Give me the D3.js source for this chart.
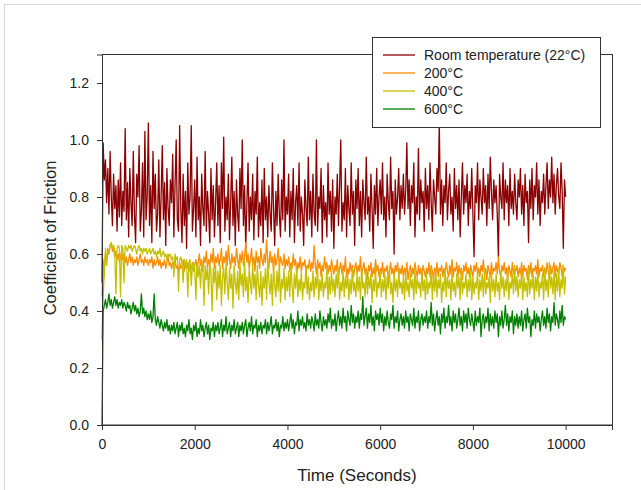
<!DOCTYPE html>
<html><head><meta charset="utf-8">
<script src="https://cdn.jsdelivr.net/npm/d3@7/dist/d3.min.js"></script>
<style>body{margin:0;background:#fff;}svg{display:block;font-family:"Liberation Sans",Arial,sans-serif;}</style>
</head><body><svg id="c" width="641" height="490"></svg>
<script>
const seriesNames = ["Room temperature (22°C)", "200°C", "400°C", "600°C"];
const seriesColors = ["#8b0000", "#ff8c00", "#c4c000", "#008000"];
const xTicks = [0, 2000, 4000, 6000, 8000, 10000];
const yTicks = [0.0, 0.2, 0.4, 0.6, 0.8, 1.0, 1.2];
const sampleStep = 25; // seconds between samples

const roomTemp = [
0.50,0.99,0.86,0.93,0.78,0.90,0.74,0.96,0.80,0.70,0.88,0.76,0.84,0.68,0.86,0.73,0.92,0.70,0.82,0.75,
1.04,0.72,0.85,0.66,0.90,0.78,0.70,0.96,0.74,0.64,0.88,0.80,0.98,0.68,0.75,0.92,0.66,1.03,0.72,0.80,
1.06,0.70,0.84,0.64,0.96,0.76,0.88,0.68,0.74,0.93,0.66,0.80,0.98,0.72,0.85,0.63,0.90,0.76,0.70,0.86,
0.78,0.95,0.66,0.84,1.00,0.72,0.68,1.05,0.76,0.64,0.88,0.70,0.82,0.62,0.92,0.74,0.80,1.05,0.68,0.76,
0.86,0.66,0.94,0.72,0.80,0.63,0.88,0.76,0.70,0.96,0.68,0.82,0.74,0.64,0.90,0.72,0.84,0.66,0.78,0.92,
0.70,0.84,0.64,0.92,0.76,1.01,0.68,0.80,0.72,0.88,0.65,0.78,0.94,0.70,0.82,0.63,0.86,0.74,0.68,0.90,
0.76,1.00,0.70,0.84,0.62,0.78,0.92,0.68,0.80,0.72,0.88,0.65,0.82,0.74,0.94,0.66,0.78,0.70,0.86,0.64,
0.90,0.72,0.80,0.66,0.84,0.74,0.68,0.92,0.76,0.63,0.82,0.70,0.88,0.74,0.66,0.86,0.72,1.00,0.68,0.80,
0.74,0.88,0.66,0.82,0.72,0.90,0.64,0.78,0.84,0.70,0.92,0.68,0.80,0.74,0.63,0.86,0.76,0.70,0.94,0.72,
0.82,0.66,0.88,0.74,0.70,1.00,0.68,0.80,0.76,0.90,0.64,0.84,0.72,0.78,0.66,0.92,0.74,0.82,0.68,0.86,
0.62,0.80,0.74,0.88,0.70,0.84,1.00,0.68,0.78,0.72,0.90,0.66,0.84,0.76,0.70,0.92,0.74,0.82,0.63,0.86,
0.76,0.90,0.70,0.82,0.66,0.86,0.78,0.72,0.94,0.74,0.80,0.68,0.88,0.76,0.62,0.84,0.74,0.90,0.70,0.80,
0.86,0.74,0.92,0.72,0.80,0.66,0.88,0.78,0.72,0.94,0.76,0.82,0.60,0.86,0.74,0.80,0.90,0.72,0.84,0.76,
0.88,0.74,0.82,0.99,0.76,0.86,0.70,0.84,0.78,0.92,0.66,0.80,0.74,0.97,0.72,0.86,0.78,0.82,0.68,0.90,
0.76,0.84,0.72,0.92,0.78,0.68,0.86,0.80,0.74,0.90,0.82,1.06,0.74,0.86,0.70,0.84,0.78,0.92,0.72,0.82,
0.88,0.74,0.80,0.68,0.90,0.76,0.84,0.72,0.86,0.66,0.80,0.92,0.74,0.84,0.78,0.88,0.70,0.82,0.76,0.90,
0.74,0.59,0.84,0.78,0.92,0.72,0.86,0.80,0.74,0.90,0.78,0.84,0.70,0.88,0.76,0.94,0.82,0.72,0.86,0.78,
0.84,0.74,0.59,0.88,0.80,0.76,0.92,0.72,0.86,0.78,0.84,0.70,0.90,0.76,0.82,0.74,0.88,0.78,0.72,0.86,
0.80,0.90,0.74,0.84,0.70,0.88,0.78,0.82,0.64,0.86,0.76,0.90,0.72,0.84,0.80,0.92,0.74,0.86,0.70,0.82,
0.78,0.88,0.74,0.84,0.92,0.76,0.86,0.80,0.94,0.78,0.88,0.74,0.84,0.90,0.80,0.76,0.92,0.82,0.62,0.86,
0.80];

const temp200 = [
0.30,0.45,0.55,0.60,0.58,0.62,0.60,0.63,0.64,0.61,0.62,0.59,0.61,0.58,0.60,0.57,0.59,0.61,0.58,0.60,
0.57,0.59,0.56,0.58,0.60,0.57,0.59,0.56,0.58,0.57,0.59,0.56,0.58,0.60,0.57,0.58,0.56,0.59,0.57,0.58,
0.56,0.58,0.57,0.59,0.55,0.58,0.56,0.57,0.59,0.56,0.58,0.55,0.57,0.56,0.58,0.55,0.57,0.59,0.56,0.57,
0.55,0.57,0.56,0.58,0.55,0.56,0.54,0.57,0.55,0.56,0.58,0.54,0.56,0.55,0.57,0.54,0.56,0.55,0.57,0.54,
0.56,0.58,0.55,0.57,0.60,0.56,0.58,0.54,0.59,0.57,0.61,0.55,0.58,0.56,0.60,0.57,0.62,0.55,0.59,0.57,
0.60,0.56,0.58,0.62,0.55,0.59,0.57,0.61,0.56,0.63,0.58,0.55,0.60,0.57,0.59,0.56,0.62,0.58,0.55,0.60,
0.57,0.61,0.56,0.59,0.64,0.57,0.60,0.55,0.58,0.62,0.56,0.59,0.54,0.61,0.57,0.59,0.55,0.62,0.58,0.56,
0.60,0.57,0.65,0.58,0.55,0.61,0.57,0.59,0.54,0.60,0.56,0.58,0.62,0.55,0.59,0.57,0.56,0.60,0.55,0.58,
0.56,0.59,0.54,0.57,0.55,0.60,0.56,0.58,0.53,0.57,0.55,0.59,0.54,0.57,0.56,0.58,0.53,0.56,0.55,0.58,
0.54,0.57,0.55,0.63,0.56,0.53,0.58,0.55,0.57,0.52,0.56,0.54,0.59,0.55,0.57,0.53,0.56,0.54,0.58,0.55,
0.53,0.56,0.54,0.58,0.52,0.55,0.57,0.53,0.56,0.54,0.59,0.52,0.55,0.53,0.57,0.54,0.56,0.52,0.55,0.57,
0.53,0.56,0.54,0.59,0.52,0.55,0.57,0.53,0.55,0.51,0.56,0.54,0.57,0.52,0.55,0.53,0.58,0.54,0.56,0.52,
0.55,0.53,0.57,0.52,0.55,0.54,0.56,0.51,0.54,0.57,0.53,0.55,0.52,0.56,0.54,0.57,0.52,0.55,0.53,0.56,
0.52,0.55,0.53,0.57,0.51,0.54,0.56,0.52,0.55,0.53,0.57,0.54,0.52,0.56,0.53,0.55,0.51,0.56,0.54,0.52,
0.55,0.53,0.57,0.52,0.56,0.54,0.51,0.55,0.53,0.57,0.52,0.55,0.54,0.56,0.52,0.55,0.53,0.57,0.54,0.52,
0.56,0.53,0.58,0.52,0.55,0.54,0.57,0.52,0.56,0.53,0.55,0.51,0.56,0.54,0.57,0.53,0.55,0.52,0.56,0.54,
0.52,0.56,0.54,0.57,0.53,0.55,0.52,0.56,0.54,0.58,0.53,0.55,0.51,0.56,0.54,0.52,0.57,0.53,0.55,0.54,
0.57,0.53,0.59,0.54,0.52,0.56,0.54,0.57,0.53,0.55,0.51,0.56,0.54,0.52,0.57,0.53,0.55,0.54,0.56,0.52,
0.55,0.53,0.57,0.52,0.56,0.54,0.55,0.51,0.56,0.53,0.57,0.52,0.55,0.54,0.56,0.53,0.58,0.52,0.55,0.54,
0.56,0.52,0.55,0.53,0.57,0.54,0.52,0.56,0.53,0.55,0.57,0.52,0.56,0.54,0.53,0.57,0.55,0.52,0.56,0.54,
0.55];

const temp400 = [
0.45,0.58,0.52,0.62,0.56,0.61,0.60,0.63,0.64,0.62,0.63,0.61,0.46,0.62,0.63,0.62,0.45,0.63,0.62,0.50,
0.63,0.62,0.61,0.63,0.62,0.63,0.61,0.62,0.63,0.62,0.60,0.62,0.63,0.61,0.62,0.60,0.62,0.61,0.62,0.60,
0.61,0.62,0.60,0.61,0.62,0.60,0.61,0.59,0.61,0.60,0.62,0.59,0.60,0.61,0.59,0.60,0.58,0.60,0.59,0.60,
0.58,0.59,0.52,0.60,0.58,0.59,0.47,0.58,0.59,0.57,0.50,0.58,0.56,0.58,0.45,0.57,0.58,0.49,0.56,0.57,
0.55,0.44,0.57,0.52,0.56,0.48,0.57,0.55,0.42,0.56,0.51,0.55,0.46,0.57,0.53,0.40,0.55,0.50,0.56,0.44,
0.54,0.48,0.56,0.42,0.52,0.55,0.46,0.57,0.50,0.44,0.55,0.48,0.53,0.41,0.56,0.50,0.46,0.54,0.44,0.57,
0.49,0.53,0.45,0.58,0.47,0.52,0.43,0.55,0.50,0.46,0.57,0.48,0.53,0.44,0.56,0.49,0.45,0.54,0.42,0.52,
0.48,0.55,0.44,0.58,0.50,0.46,0.53,0.42,0.56,0.49,0.45,0.54,0.47,0.57,0.43,0.51,0.48,0.55,0.44,0.52,
0.47,0.54,0.45,0.56,0.49,0.43,0.53,0.48,0.55,0.45,0.51,0.47,0.54,0.44,0.50,0.48,0.56,0.46,0.52,0.44,
0.50,0.47,0.54,0.45,0.52,0.48,0.55,0.44,0.51,0.47,0.53,0.45,0.50,0.48,0.55,0.44,0.52,0.46,0.54,0.47,
0.51,0.45,0.53,0.48,0.55,0.44,0.50,0.47,0.54,0.45,0.52,0.48,0.53,0.44,0.51,0.46,0.55,0.47,0.50,0.45,
0.53,0.47,0.52,0.44,0.55,0.48,0.50,0.45,0.54,0.46,0.52,0.48,0.53,0.43,0.51,0.47,0.55,0.45,0.50,0.48,
0.54,0.45,0.51,0.47,0.53,0.44,0.52,0.48,0.55,0.46,0.50,0.43,0.53,0.47,0.51,0.45,0.54,0.48,0.50,0.46,
0.52,0.44,0.54,0.47,0.50,0.45,0.53,0.48,0.51,0.44,0.55,0.46,0.52,0.48,0.50,0.45,0.54,0.47,0.51,0.44,
0.53,0.46,0.50,0.48,0.55,0.44,0.52,0.47,0.54,0.45,0.51,0.48,0.53,0.43,0.50,0.47,0.55,0.45,0.52,0.48,
0.51,0.44,0.54,0.47,0.50,0.45,0.53,0.48,0.52,0.44,0.55,0.46,0.50,0.48,0.53,0.45,0.51,0.47,0.54,0.44,
0.52,0.46,0.50,0.48,0.54,0.44,0.51,0.47,0.53,0.45,0.55,0.46,0.50,0.48,0.52,0.43,0.54,0.47,0.51,0.45,
0.53,0.47,0.50,0.44,0.54,0.48,0.52,0.45,0.51,0.47,0.55,0.44,0.50,0.48,0.53,0.46,0.56,0.47,0.52,0.45,
0.51,0.48,0.54,0.44,0.52,0.47,0.50,0.45,0.55,0.46,0.51,0.48,0.53,0.44,0.52,0.47,0.54,0.45,0.50,0.48,
0.53,0.44,0.55,0.47,0.51,0.45,0.57,0.48,0.52,0.46,0.54,0.44,0.53,0.47,0.55,0.45,0.51,0.48,0.56,0.46,
0.52];

const temp600 = [
0.00,0.40,0.42,0.44,0.41,0.43,0.46,0.42,0.44,0.41,0.43,0.45,0.42,0.44,0.41,0.43,0.42,0.44,0.41,0.43,
0.42,0.40,0.43,0.41,0.42,0.39,0.41,0.43,0.40,0.42,0.39,0.41,0.38,0.40,0.46,0.39,0.41,0.38,0.40,0.37,
0.39,0.37,0.40,0.36,0.38,0.46,0.37,0.35,0.38,0.36,0.34,0.37,0.35,0.33,0.36,0.34,0.37,0.33,0.35,0.32,
0.35,0.33,0.36,0.32,0.34,0.36,0.31,0.35,0.33,0.36,0.32,0.34,0.31,0.35,0.33,0.37,0.32,0.34,0.30,0.35,
0.33,0.36,0.31,0.34,0.32,0.37,0.33,0.35,0.31,0.34,0.36,0.32,0.35,0.30,0.34,0.33,0.36,0.31,0.35,0.33,
0.36,0.32,0.34,0.37,0.31,0.35,0.33,0.38,0.32,0.34,0.36,0.31,0.35,0.33,0.37,0.32,0.34,0.36,0.31,0.35,
0.33,0.36,0.32,0.35,0.37,0.31,0.34,0.36,0.33,0.38,0.32,0.35,0.34,0.37,0.31,0.35,0.33,0.36,0.32,0.35,
0.34,0.37,0.32,0.36,0.33,0.35,0.38,0.32,0.35,0.34,0.37,0.33,0.36,0.31,0.35,0.34,0.38,0.33,0.36,0.34,
0.37,0.33,0.36,0.39,0.34,0.37,0.32,0.36,0.35,0.40,0.33,0.37,0.35,0.38,0.34,0.36,0.33,0.39,0.35,0.37,
0.34,0.38,0.36,0.33,0.39,0.35,0.37,0.34,0.40,0.36,0.33,0.38,0.35,0.37,0.34,0.39,0.36,0.41,0.34,0.37,
0.35,0.39,0.33,0.37,0.40,0.35,0.38,0.34,0.41,0.36,0.38,0.33,0.40,0.37,0.35,0.42,0.36,0.39,0.34,0.38,
0.36,0.40,0.34,0.39,0.37,0.45,0.35,0.38,0.41,0.34,0.39,0.36,0.42,0.35,0.38,0.33,0.40,0.37,0.39,0.35,
0.41,0.36,0.39,0.33,0.38,0.35,0.40,0.36,0.34,0.39,0.37,0.42,0.34,0.38,0.36,0.40,0.33,0.37,0.39,0.35,
0.38,0.34,0.40,0.36,0.38,0.33,0.39,0.37,0.35,0.41,0.34,0.38,0.36,0.40,0.33,0.37,0.39,0.35,0.38,0.36,
0.40,0.34,0.38,0.36,0.43,0.35,0.39,0.33,0.37,0.40,0.35,0.38,0.32,0.39,0.36,0.41,0.34,0.38,0.36,0.42,
0.35,0.38,0.33,0.40,0.36,0.39,0.34,0.37,0.41,0.35,0.38,0.33,0.40,0.36,0.39,0.34,0.41,0.37,0.35,0.39,
0.36,0.33,0.40,0.35,0.38,0.36,0.41,0.31,0.37,0.39,0.34,0.38,0.36,0.41,0.33,0.39,0.35,0.38,0.34,0.40,
0.36,0.39,0.31,0.38,0.35,0.40,0.34,0.37,0.42,0.35,0.39,0.33,0.38,0.36,0.40,0.32,0.38,0.35,0.39,0.34,
0.38,0.35,0.40,0.33,0.37,0.39,0.34,0.41,0.36,0.38,0.31,0.37,0.35,0.40,0.34,0.39,0.36,0.38,0.33,0.37,
0.40,0.35,0.38,0.34,0.41,0.36,0.39,0.33,0.38,0.36,0.43,0.35,0.39,0.37,0.34,0.40,0.36,0.42,0.35,0.38,
0.37];

const allSeries = [roomTemp, temp200, temp400, temp600];

const svg = d3.select("#c");
const x = d3.scaleLinear().domain([0, 11000]).range([102, 612]);
const y = d3.scaleLinear().domain([0, 1.3]).range([425, 54.5]);

// outer light border
svg.append("rect").attr("x",4.5).attr("y",4.5).attr("width",700).attr("height",600)
  .attr("fill","none").attr("stroke","#d8d8d8");

const line = d3.line().x((d,i)=>x(i*sampleStep)).y(d=>y(d));
allSeries.forEach((s,k)=>{
  svg.append("path").datum(s).attr("d",line).attr("fill","none")
    .attr("stroke",seriesColors[k]).attr("stroke-width",1.3).attr("stroke-linejoin","round");
});

// frame
svg.append("rect").attr("x",102.5).attr("y",54.5).attr("width",510).attr("height",370.5)
  .attr("fill","none").attr("stroke","#333").attr("stroke-width",1);

const xAxis = svg.append("g").attr("transform","translate(0,425)")
  .call(d3.axisBottom(x).tickValues(xTicks).tickFormat(d3.format("d")).tickSizeOuter(0).tickSize(5).tickPadding(9));
const yAxis = svg.append("g").attr("transform","translate(102,0)")
  .call(d3.axisLeft(y).tickValues(yTicks).tickFormat(d3.format(".1f")).tickSizeOuter(0).tickSize(5).tickPadding(8));
[xAxis,yAxis].forEach(a=>{
  a.select(".domain").attr("stroke","#333");
  a.selectAll(".tick line").attr("stroke","#333");
  a.selectAll(".tick text").attr("fill","#222").style("font-size","14px").style("font-family","'Liberation Sans',Arial,sans-serif");
});

svg.append("text").attr("x",357).attr("y",481).attr("text-anchor","middle")
  .style("font-size","17px").attr("fill","#222").text("Time (Seconds)");
svg.append("text").attr("transform","translate(56,238) rotate(-90)").attr("text-anchor","middle")
  .style("font-size","16.5px").attr("fill","#222").text("Coefficient of Friction");

// legend
const lg = svg.append("g");
lg.append("rect").attr("x",372.5).attr("y",37.5).attr("width",228).attr("height",90)
  .attr("fill","#fff").attr("stroke","#333");
const rowsY = [55, 73, 91, 109];
seriesNames.forEach((n,k)=>{
  lg.append("line").attr("x1",383).attr("x2",415).attr("y1",rowsY[k]).attr("y2",rowsY[k])
    .attr("stroke",seriesColors[k]).attr("stroke-width",1.3);
  lg.append("text").attr("x",424).attr("y",rowsY[k]+5).style("font-size","14px").attr("fill","#222").text(n);
});
</script></body></html>
